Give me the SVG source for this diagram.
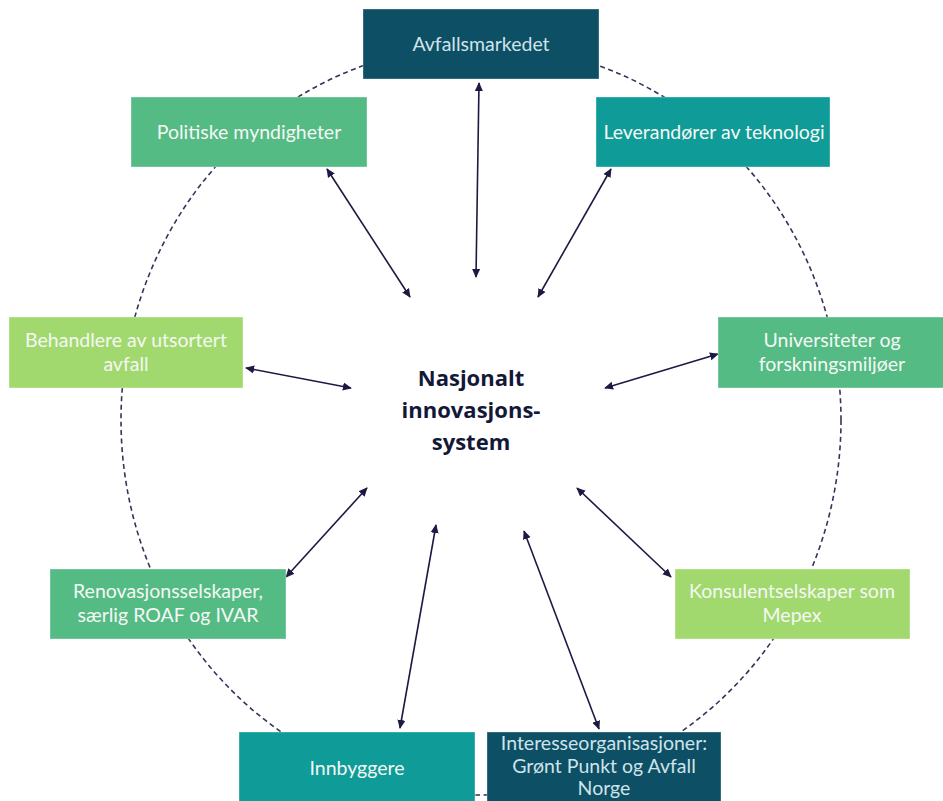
<svg xmlns="http://www.w3.org/2000/svg" width="943" height="801" viewBox="0 0 943 801">
  <defs>
    <style>
      .box { stroke: #ffffff; stroke-opacity: 0.35; stroke-width: 1; }
      .dark { fill: #0d4f64; }
      .teal { fill: #0f9b98; }
      .green { fill: #55bb84; }
      .lime { fill: #a2d96e; }
      .lbl { font-family: Lato, "Open Sans", "Liberation Sans", sans-serif; font-size: 19.5px; text-anchor: middle; fill: #f4f8f4; }
      .lbl-dark { fill: #cfe3ea; }
      .center { font-family: "Open Sans", Lato, "Liberation Sans", sans-serif; font-size: 22px; font-weight: bold; text-anchor: middle; fill: #141838; }
      .link { stroke: #1c1a44; stroke-width: 1.6; fill: none; marker-start: url(#head); marker-end: url(#head); }
      .ring { stroke: #34345a; stroke-width: 1.6; fill: none; stroke-dasharray: 5 3.5; }
    </style>
    <marker id="head" viewBox="0 0 10 10" refX="9" refY="5" markerWidth="9" markerHeight="9" orient="auto-start-reverse" markerUnits="userSpaceOnUse">
      <path d="M0,0.5 L10,5 L0,9.5 z" fill="#1c1a44"/>
    </marker>
  </defs>
  <rect width="943" height="801" fill="#ffffff"/>

  <!-- dashed ring around the system -->
  <ellipse class="ring" cx="481" cy="420" rx="360" ry="375"/>

  <!-- two-way links between the core and each actor -->
  <g id="connectors">
    <line class="link" x1="479" y1="83" x2="476" y2="277"/>
    <line class="link" x1="327" y1="169" x2="410" y2="297"/>
    <line class="link" x1="611" y1="169" x2="538" y2="297"/>
    <line class="link" x1="246" y1="368" x2="351" y2="388"/>
    <line class="link" x1="718" y1="354" x2="605" y2="388"/>
    <line class="link" x1="367" y1="488" x2="286" y2="577"/>
    <line class="link" x1="577" y1="488" x2="671" y2="577"/>
    <line class="link" x1="436" y1="525" x2="400" y2="728"/>
    <line class="link" x1="524" y1="531" x2="599" y2="729"/>
  </g>

  <g id="core">
    <text class="center" x="471" y="386">Nasjonalt</text>
    <text class="center" x="471" y="418">innovasjons-</text>
    <text class="center" x="471" y="450">system</text>
  </g>

  <g id="avfallsmarkedet">
    <rect class="box dark" x="363" y="9" width="236" height="70"/>
    <text class="lbl lbl-dark" x="481" y="51">Avfallsmarkedet</text>
  </g>

  <g id="politiske">
    <rect class="box green" x="131" y="97" width="236" height="70"/>
    <text class="lbl" x="249" y="139">Politiske myndigheter</text>
  </g>

  <g id="leverandorer">
    <rect class="box teal" x="596" y="97" width="234" height="70"/>
    <text class="lbl" x="714" y="139">Leverandører av teknologi</text>
  </g>

  <g id="behandlere">
    <rect class="box lime" x="9" y="317" width="234" height="71"/>
    <text class="lbl" x="126" y="347">Behandlere av utsortert</text>
    <text class="lbl" x="126" y="371">avfall</text>
  </g>

  <g id="universiteter">
    <rect class="box green" x="718" y="317" width="226" height="71"/>
    <text class="lbl" x="832" y="347">Universiteter og</text>
    <text class="lbl" x="832" y="371">forskningsmiljøer</text>
  </g>

  <g id="renovasjon">
    <rect class="box green" x="50" y="569" width="236" height="70"/>
    <text class="lbl" x="168" y="598">Renovasjonsselskaper,</text>
    <text class="lbl" x="168" y="622">særlig ROAF og IVAR</text>
  </g>

  <g id="konsulent">
    <rect class="box lime" x="675" y="569" width="235" height="70"/>
    <text class="lbl" x="792" y="598">Konsulentselskaper som</text>
    <text class="lbl" x="792" y="622">Mepex</text>
  </g>

  <g id="innbyggere">
    <rect class="box teal" x="239" y="732" width="236" height="72"/>
    <text class="lbl" x="357" y="775">Innbyggere</text>
  </g>

  <g id="interesse">
    <rect class="box dark" x="487" y="732" width="234" height="72"/>
    <text class="lbl lbl-dark" x="604" y="750">Interesseorganisasjoner:</text>
    <text class="lbl lbl-dark" x="604" y="773">Grønt Punkt og Avfall</text>
    <text class="lbl lbl-dark" x="604" y="795">Norge</text>
  </g>
</svg>
